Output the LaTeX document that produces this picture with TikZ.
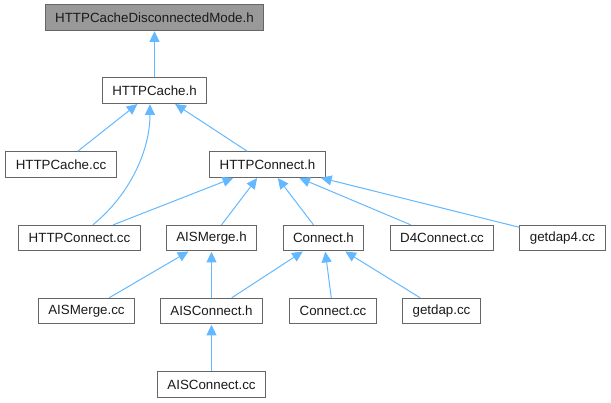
\documentclass[tikz,border=0pt]{standalone}
\usepackage{fontspec}
\setmainfont{Liberation Sans}
\usepackage{xcolor}
\usetikzlibrary{arrows.meta,positioning,calc}
\definecolor{dxedge}{HTML}{63B8FF}
\definecolor{dxline}{HTML}{666666}
\definecolor{dxroot}{HTML}{999999}
\definecolor{dxink}{HTML}{1A1A1A}
\tikzset{
  file/.style={rectangle,draw=dxline,line width=0.8pt,fill=white,
               minimum height=19pt,inner xsep=7.5pt,inner ysep=0pt,
               font=\fontsize{10}{12}\selectfont,text=dxink},
  root/.style={file,fill=dxroot},
  link/.style={-{Triangle[length=8pt,width=7.5pt]},line width=0.75pt,draw=dxedge,
               shorten >=0.4pt},
}
\begin{document}
\begin{tikzpicture}[x=0.75pt,y=-0.75pt]
\useasboundingbox (0,0) rectangle (611,403);
% rows
\node[root] (top) at (154.5,17.5) {HTTPCacheDisconnectedMode.h};
\node[file] (cache) at (154.5,90.5) {HTTPCache.h};
\node[file] (cachecc) at (61,164.5) {HTTPCache.cc};
\node[file] (conn) at (267.5,164.5) {HTTPConnect.h};
\node[file] (conncc) at (79.5,238) {HTTPConnect.cc};
\node[file] (aismerge) at (211.5,238) {AISMerge.h};
\node[file] (connh) at (323.5,238) {Connect.h};
\node[file] (d4cc) at (442,238) {D4Connect.cc};
\node[file] (getdap4) at (562.5,238) {getdap4.cc};
\node[file] (aismergecc) at (86.5,311) {AISMerge.cc};
\node[file] (aisconn) at (211.5,311) {AISConnect.h};
\node[file] (connectcc) at (333,311) {Connect.cc};
\node[file] (getdapcc) at (441.5,311) {getdap.cc};
\node[file] (aisconncc) at (211.5,384.5) {AISConnect.cc};
% edges
\draw[link] (cache) -- (top);
\draw[link] (cachecc) -- (cache);
\draw[link] ([xshift=10pt]conncc.north) .. controls +(37,-30) and +(0,47) .. ([xshift=-3.4pt]cache.south);
\draw[link] (conn) -- (cache);
\draw[link] (conncc) -- (conn);
\draw[link] (aismerge) -- (conn);
\draw[link] (connh) -- (conn);
\draw[link] (d4cc) -- (conn);
\draw[link] (getdap4) -- (conn);
\draw[link] (aismergecc) -- (aismerge);
\draw[link] (aisconn) -- (aismerge);
\draw[link] (aisconn) -- (connh);
\draw[link] (connectcc) -- (connh);
\draw[link] (getdapcc) -- (connh);
\draw[link] (aisconncc) -- (aisconn);
\end{tikzpicture}
\end{document}
